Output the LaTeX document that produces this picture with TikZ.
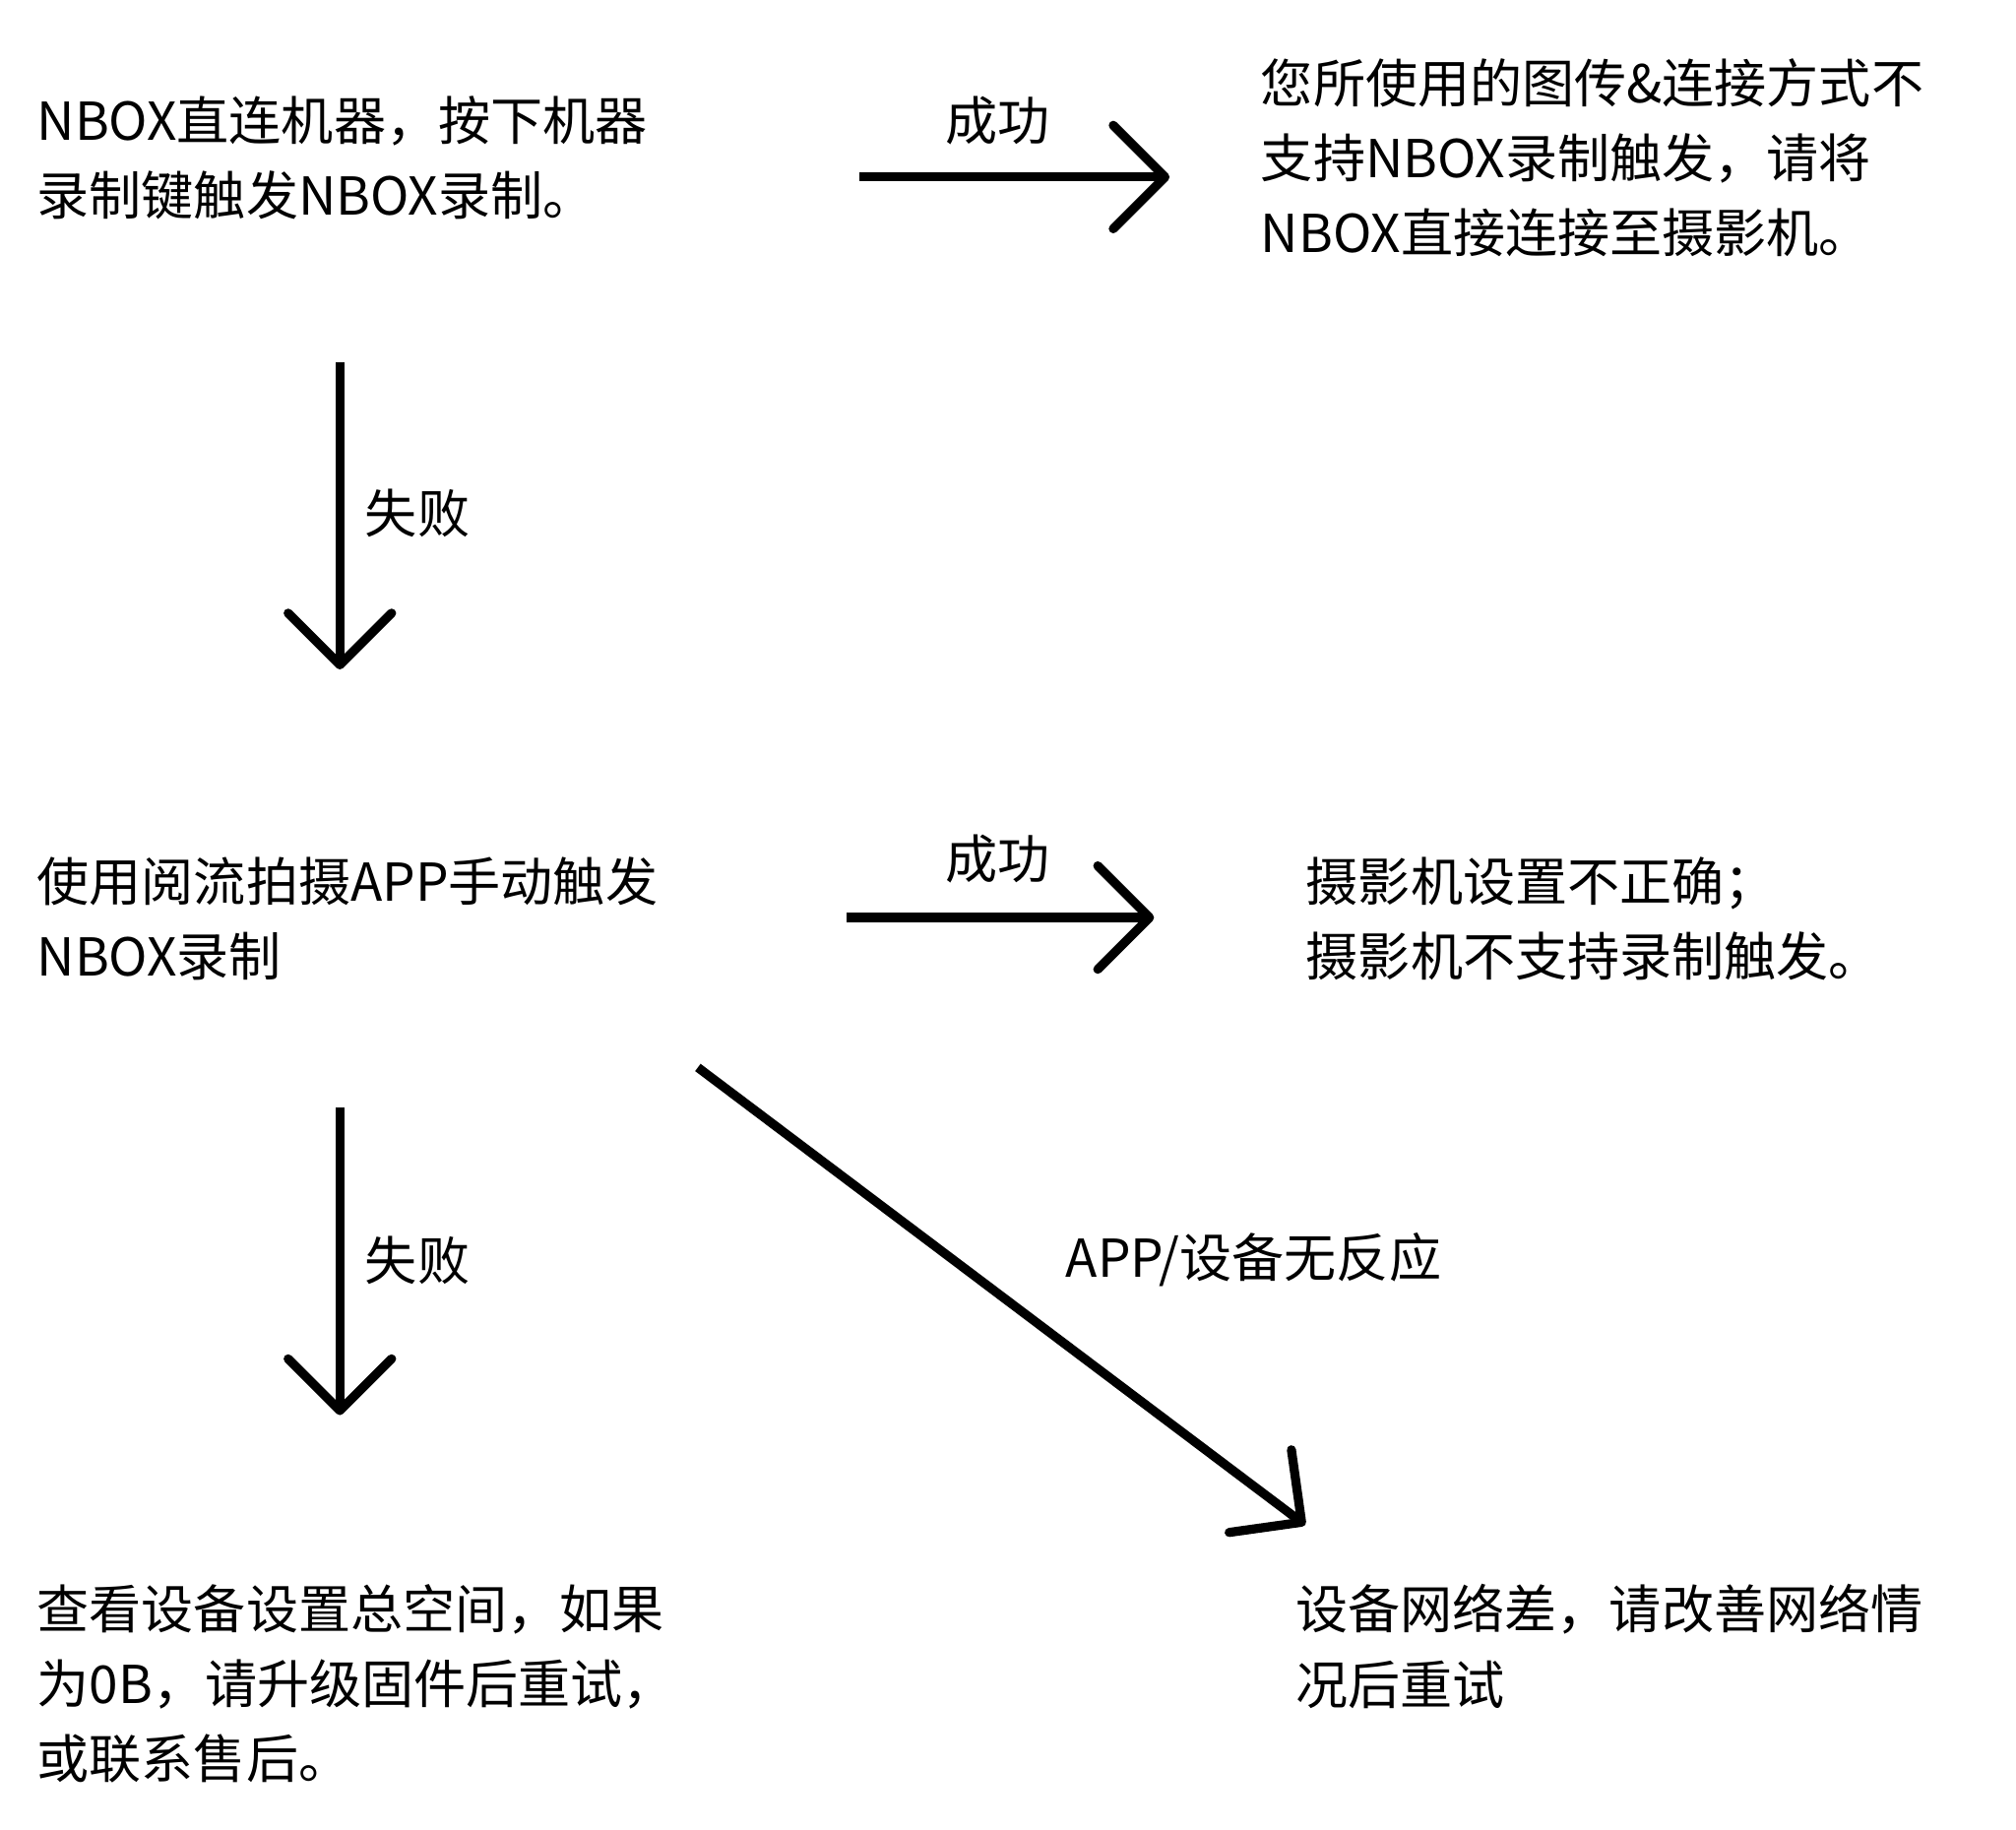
\documentclass[tikz,border=0pt]{standalone}
\usepackage{fontspec}
\newfontfamily\cjk{Noto Sans CJK SC}
\usetikzlibrary{arrows.meta}
\tikzset{
    stepnote/.style={anchor=west, align=left, inner sep=0pt, font=\cjk\fontsize{11.5}{16.5}\selectfont},
    flowarrow/.style={line width=2pt, -{Straight Barb[length=0.4cm, width=0.8cm, line width=2pt, round]}},
    flowlabel/.style={inner sep=0pt, font=\cjk\fontsize{11.5}{14}\selectfont}
}
\begin{document}
\begin{tikzpicture}[x=0.01cm, y=-0.01cm]
    \useasboundingbox (0,0) rectangle (1560,1416);

    % Texts
    \node[stepnote] (direct) at (28,122) {NBOX直连机器，按下机器\\录制键触发NBOX录制。};
    \node[stepnote] (unsupported) at (975,122) {您所使用的图传\&连接方式不\\支持NBOX录制触发，请将\\NBOX直接连接至摄影机。};
    \node[stepnote] (manual) at (28,711) {使用阅流拍摄APP手动触发\\NBOX录制};
    \node[stepnote] (camera) at (1010,711) {摄影机设置不正确；\\摄影机不支持录制触发。};
    \node[stepnote] (storage) at (28,1303) {查看设备设置总空间，如果\\为0B，请升级固件后重试，\\或联系售后。};
    \node[stepnote] (network) at (1002,1274) {设备网络差，请改善网络情\\况后重试};

    % Arrow ends
    \coordinate (a1s) at (665,137);  \coordinate (a1e) at (905,137);
    \coordinate (a2s) at (263,280);  \coordinate (a2e) at (263,518);
    \coordinate (a3s) at (655,710);  \coordinate (a3e) at (893,710);
    \coordinate (a4s) at (263,857);  \coordinate (a4e) at (263,1095);
    \coordinate (a5s) at (540,826);  \coordinate (a5e) at (1010,1180);

    % Arrows
    \draw[flowarrow] (a1s) -- (a1e);
    \draw[flowarrow] (a2s) -- (a2e);
    \draw[flowarrow] (a3s) -- (a3e);
    \draw[flowarrow] (a4s) -- (a4e);
    \draw[flowarrow] (a5s) -- (a5e);

    % Arrow labels
    \node[flowlabel] (ok1) at (772,93) {成功};
    \node[flowlabel] (fail1) at (323,397) {失败};
    \node[flowlabel] (ok2) at (772,665) {成功};
    \node[flowlabel] (fail2) at (323,975) {失败};
    \node[flowlabel] (noresp) at (970,975) {APP/设备无反应};
\end{tikzpicture}
\end{document}
